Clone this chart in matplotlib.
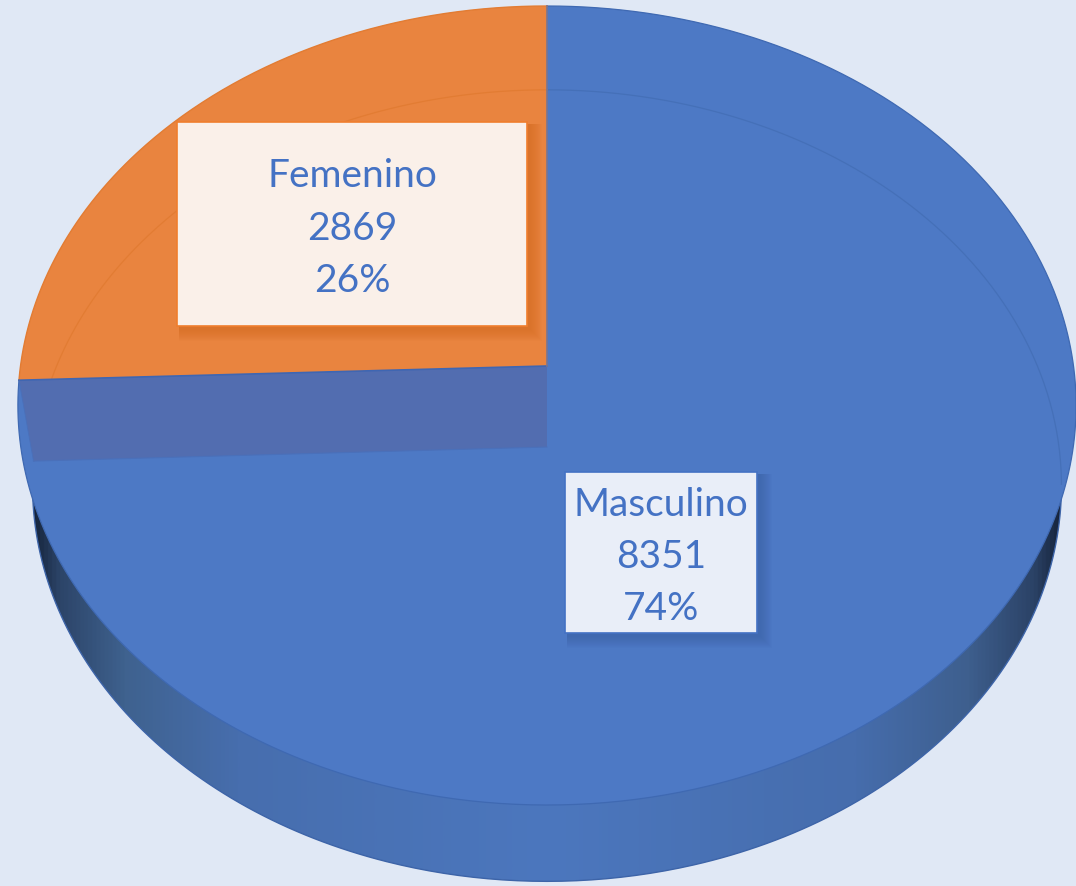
import numpy as np
import matplotlib
matplotlib.use('Agg')
import matplotlib.pyplot as plt
from matplotlib.colors import LinearSegmentedColormap
from matplotlib.patches import Polygon, Rectangle

categories = ['Masculino', 'Femenino']
values = [8351, 2869]
percent_labels = ['74%', '26%']

BG = '#E0E8F5'
BLUE = '#4D79C5'
ORANGE = '#E9843F'
BAND = '#526DB0'
TEXT = '#4472C4'

plt.rcParams['font.family'] = ['Lato', 'DejaVu Sans']


# Perspective projection of the pie disc onto pixel coords (theta clockwise from top)
def project(theta, cy, a, b, k, cx=547):
    u = np.sin(theta)
    v = -np.cos(theta)
    w = 1 - k * v
    return cx + a * u / w, cy + b * v / w


def top_face(theta):
    return project(theta, 366, 526.5, 395.6, 0.0989)


def bottom_face(theta):
    return project(theta, 447, 512, 392, 0.0975)


def as_poly(xy):
    return np.column_stack(xy)


def draw_label(ax, x0, y0, x1, y1, lines, face, edge, shadow):
    # soft shadow, a few stacked rectangles
    for i in range(12):
        ax.add_patch(Rectangle((x0 + 2, y0 + 2), x1 - x0 + 13 - i, y1 - y0 + 13 - i,
                               fc=shadow, ec='none', alpha=0.035, zorder=5))
    ax.add_patch(Rectangle((x0, y0), x1 - x0, y1 - y0, fc=face, ec=edge, lw=1.2, zorder=6))
    xc = (x0 + x1) / 2
    yc = (y0 + y1) / 2
    for i, line in enumerate(lines):
        ax.text(xc, yc + (i - 1) * 52.5 + 4.5, line, color=TEXT, fontsize=28,
                ha='center', va='center', zorder=7)


fig = plt.figure(figsize=(10.76, 8.86), dpi=100, facecolor=BG)
ax = fig.add_axes([0, 0, 1, 1])
ax.set_xlim(0, 1076)
ax.set_ylim(886, 0)
ax.axis('off')

total = sum(values)
split = 2 * np.pi * values[0] / total
full = np.linspace(0, 2 * np.pi, 721)
arc_blue = np.linspace(0, split, 541)
arc_orange = np.linspace(split, 2 * np.pi, 241)

# side wall, horizontal shading clipped to the lower disc
side_cmap = LinearSegmentedColormap.from_list('side', [
    (0.0, '#16243C'), (0.025, '#2C4468'), (0.09, '#3F628F'), (0.2, '#476EAE'),
    (0.5, '#4C77BE'), (0.8, '#466DAD'), (0.91, '#3E5F8E'), (0.975, '#2B4266'), (1.0, '#16243C')])
shade = np.linspace(0, 1, 512).reshape(1, -1)
im = ax.imshow(shade, cmap=side_cmap, extent=(32, 1062, 886, 0), aspect='auto', zorder=1)
ax.set_xlim(0, 1076)
ax.set_ylim(886, 0)
clip = Polygon(as_poly(bottom_face(full)), closed=True, transform=ax.transData, fc='none', ec='none')
ax.add_patch(clip)
im.set_clip_path(clip)
bx, by = bottom_face(full)
ax.plot(bx[180:541], by[180:541], color='#3D64A8', lw=1, zorder=1.5)

# top faces
tx, ty = top_face(arc_blue)
ax.add_patch(Polygon(np.vstack([[547, 366], np.column_stack([tx, ty])]), closed=True,
                     fc=BLUE, ec='none', zorder=2))
ax.plot(*top_face(arc_blue), color='#3F69B2', lw=0.9, zorder=3)

ox, oy = top_face(arc_orange)
ax.add_patch(Polygon(np.vstack([[547, 366], np.column_stack([ox, oy])]), closed=True,
                     fc=ORANGE, ec='none', zorder=2))
ax.plot(ox, oy, color='#E27C33', lw=1, zorder=3)

# cut wall seen through the opened slice
tl = top_face(split)
bl = bottom_face(split)
ax.add_patch(Polygon([tl, (547, 366), (547, 447), bl], closed=True, fc=BAND, ec='none', zorder=3))
ax.plot([tl[0], 547], [tl[1], 366], color='#3F66B2', lw=1.2, zorder=4)
ax.plot([bl[0], 547], [bl[1], 447], color='#4A70BA', lw=0.8, zorder=4)
ax.plot([547, 547], [6, 366], color='#7A7590', lw=1.2, zorder=4)
ax.plot([tl[0], bl[0]], [tl[1], bl[1]], color='#4A70BA', lw=0.6, zorder=4)

# faint far rim of the lower disc, seen through the top
far_blue = np.linspace(0, np.pi * 0.53, 200)
ax.plot(*bottom_face(far_blue), color='#4570B8', lw=0.9, zorder=3)
far_orange = np.linspace(split, 2 * np.pi, 240)
fx, fy = bottom_face(far_orange)
cut_y = 366 + (tl[1] - 366) * (547 - fx) / (547 - tl[0])
keep = fy < cut_y
ax.plot(fx[keep], fy[keep], color='#E27C33', lw=0.9, zorder=3)

draw_label(ax, 177, 122, 527, 326,
           [categories[1], str(values[1]), percent_labels[1]],
           '#FAF0E9', '#F07E2E', '#C85F14')
draw_label(ax, 565, 472, 757, 633,
           [categories[0], str(values[0]), percent_labels[0]],
           '#E9EEF8', '#4472C4', '#2F5597')

fig.savefig('out.png', dpi=100, facecolor=BG)
